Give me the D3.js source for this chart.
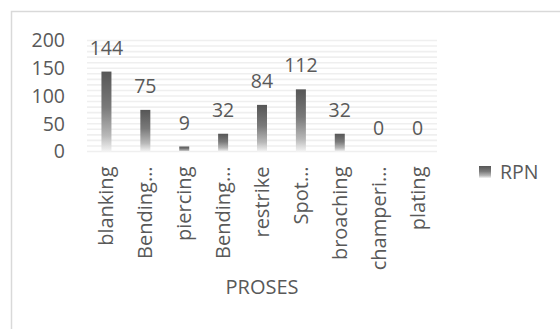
<!DOCTYPE html>
<html>
<head>
<meta charset="utf-8">
<script src="https://cdn.jsdelivr.net/npm/d3@7"></script>
<style>
  html, body { margin: 0; padding: 0; background: #fff; }
  svg { display: block; }
  text { font-family: "Open Sans", "Noto Sans", sans-serif; fill: #595959; }
</style>
</head>
<body>
<svg id="chart" width="560" height="329"></svg>
<script>
// RPN per process step
const categories = ["blanking", "Bending…", "piercing", "Bending…", "restrike", "Spot…", "broaching", "champeri…", "plating"];
const rpnValues = [144, 75, 9, 32, 84, 112, 32, 0, 0];
const yTicks = [0, 50, 100, 150, 200];
const seriesName = "RPN";
const xTitle = "PROSES";

const svg = d3.select("#chart");
const W = 560, H = 329;
const plot = { left: 87, right: 437, top: 40.5, bottom: 151.5 };
const fontSize = 19.5;

// Outer frame (extends past the window on right and bottom)
svg.append("rect")
  .attr("x", 11.5).attr("y", 11.5)
  .attr("width", W + 20).attr("height", H + 20)
  .attr("fill", "#fff")
  .attr("stroke", "#d9d9d9").attr("stroke-width", 1.5);

const defs = svg.append("defs");
const grad = defs.append("linearGradient")
  .attr("id", "barFill").attr("x1", 0).attr("y1", 0).attr("x2", 0).attr("y2", 1);
grad.append("stop").attr("offset", "0%").attr("stop-color", "#565656");
grad.append("stop").attr("offset", "45%").attr("stop-color", "#7a7a7a");
grad.append("stop").attr("offset", "80%").attr("stop-color", "#b8b8b8");
grad.append("stop").attr("offset", "100%").attr("stop-color", "#f4f4f4");

const x = d3.scaleBand()
  .domain(d3.range(categories.length))
  .range([plot.left, plot.right])
  .paddingInner(0.74).paddingOuter(0.37);

const y = d3.scaleLinear().domain([0, 200]).range([plot.bottom, plot.top]);

// Minor gridlines every 10 units
const gridVals = d3.range(0, 201, 10);
svg.append("g")
  .selectAll("line")
  .data(gridVals)
  .join("line")
  .attr("x1", plot.left).attr("x2", plot.right)
  .attr("y1", d => y(d)).attr("y2", d => y(d))
  .attr("stroke", "#efefef").attr("stroke-width", 1.6);

// Y axis labels
const yAxis = d3.axisLeft(y).tickValues(yTicks).tickSize(0).tickPadding(0);
const yg = svg.append("g").attr("transform", `translate(${plot.left - 22},0)`).call(yAxis);
yg.select(".domain").remove();
yg.selectAll("text")
  .attr("font-size", fontSize)
  .attr("font-family", null)
  .attr("fill", "#595959");

// Bars
const barW = 10;
const center = i => x.bandwidth() / 2 + x(i);
svg.append("g")
  .selectAll("rect")
  .data(rpnValues)
  .join("rect")
  .attr("x", (d, i) => center(i) - barW / 2)
  .attr("width", barW)
  .attr("y", d => y(d))
  .attr("height", d => y(0) - y(d))
  .attr("fill", "url(#barFill)");

// Value labels
svg.append("g")
  .selectAll("text")
  .data(rpnValues)
  .join("text")
  .attr("x", (d, i) => center(i))
  .attr("y", d => y(d) - 17)
  .attr("text-anchor", "middle")
  .attr("font-size", fontSize)
  .text(d => d);

// Category labels, rotated
const xAxis = d3.axisBottom(x).tickSize(0).tickFormat(i => categories[i]);
const xg = svg.append("g").attr("transform", `translate(0,${plot.bottom})`).call(xAxis);
xg.select(".domain").remove();
xg.selectAll("text")
  .attr("font-size", 20)
  .attr("font-family", null)
  .attr("fill", "#595959")
  .attr("text-anchor", "end")
  .attr("dy", null)
  .attr("y", 0)
  .attr("transform", "translate(7,15) rotate(-90)");

// Axis title
svg.append("text")
  .attr("x", 262).attr("y", 294)
  .attr("text-anchor", "middle")
  .attr("font-size", 20)
  .text(xTitle);

// Legend
const lg = svg.append("g").attr("transform", "translate(479,166)");
lg.append("rect").attr("width", 12).attr("height", 12).attr("fill", "url(#barFill)");
lg.append("text").attr("x", 21).attr("y", 13).attr("font-size", 19.5).text(seriesName);
</script>
</body>
</html>
